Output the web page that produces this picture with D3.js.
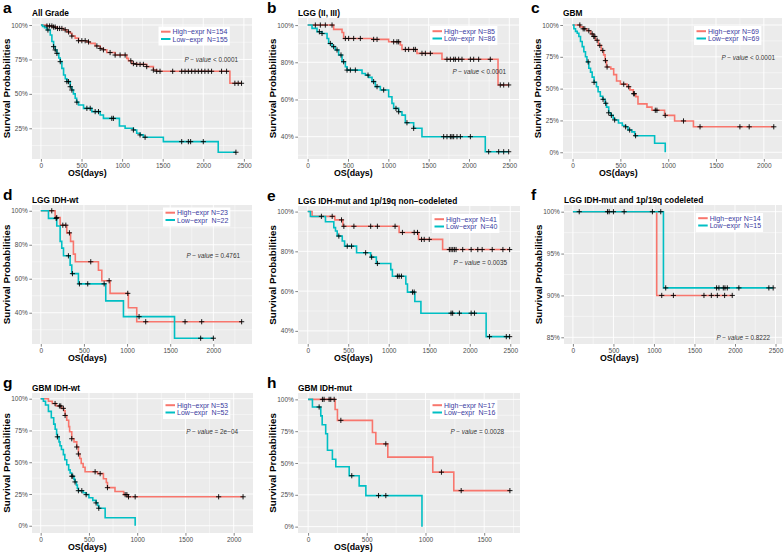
<!DOCTYPE html>
<html><head><meta charset="utf-8">
<script src="https://cdn.jsdelivr.net/npm/d3@7"></script>
<style>
body{margin:0;background:#fff}
text{font-family:"Liberation Sans",Arial,Helvetica,sans-serif}
</style>
</head><body>
<svg id="chart" width="784" height="552"></svg>
<script>
// ---------------- DATA ----------------
const panelLetters = ['a','b','c','d','e','f','g','h'];
const panelTitles = ['All Grade','LGG (II, III)','GBM','LGG IDH-wt','LGG IDH-mut and 1p/19q non\u2212codeleted','LGG IDH-mut and 1p/19q codeleted','GBM IDH-wt','GBM IDH-mut'];
const nHigh = [154,85,69,23,41,14,53,17];
const nLow = [155,86,69,22,40,15,52,16];
const pValues = ['< 0.0001','< 0.0001','< 0.0001','= 0.4761','= 0.0035','= 0.8222','= 2e\u221204','= 0.0028'];
const xTickMax = [2500,2500,2000,2000,2500,2500,2000,1500];
const yTickSets = [[0.25,0.5,0.75,1],[0.4,0.6,0.8,1],[0,0.25,0.5,0.75,1],[0.4,0.6,0.8,1],[0.4,0.6,0.8,1],[0.85,0.9,0.95,1],[0,0.25,0.5,0.75,1],[0,0.25,0.5,0.75,1]];

// events: [time (days), survival after event]; censors: times
const aHighEvents = [[74,0.993],[150,0.985],[200,0.975],[279,0.965],[320,0.95],[361,0.94],[381,0.92],[422,0.905],[463,0.886],[566,0.877],[607,0.867],[668,0.848],[730,0.83],[770,0.82],[811,0.80],[914,0.782],[1057,0.758],[1078,0.74],[1119,0.72],[1180,0.714],[1303,0.698],[1385,0.673],[1426,0.664],[2328,0.577]];
const aHighCensor = [74,107,135,156,176,205,230,258,299,340,381,463,504,545,586,689,730,770,852,914,975,1037,1107,1139,1180,1221,1262,1303,1385,1426,1467,1623,1734,1775,1816,1857,1898,1939,1980,2020,2061,2102,2225,2287,2389,2430,2471];
const aLowEvents = [[20,0.99],[45,0.98],[74,0.964],[115,0.927],[135,0.88],[156,0.843],[176,0.819],[197,0.794],[220,0.76],[238,0.734],[258,0.685],[279,0.637],[300,0.61],[320,0.589],[361,0.552],[381,0.528],[400,0.50],[422,0.468],[440,0.44],[463,0.419],[525,0.395],[627,0.371],[730,0.347],[770,0.322],[967,0.267],[1037,0.25],[1139,0.238],[1180,0.214],[1221,0.202],[1262,0.185],[1508,0.153],[2184,0.076]];
const aLowCensor = [86,156,176,197,238,320,340,361,381,443,566,607,668,709,873,893,1139,1221,1283,1734,1816,1844,2000,2402];

const bHighEvents = [[322,0.977],[426,0.96],[446,0.928],[798,0.923],[1004,0.91],[1149,0.893],[1169,0.869],[1355,0.848],[1665,0.816],[2360,0.678]];
const bHighCensor = [95,157,219,302,467,508,570,653,818,860,1066,1107,1128,1211,1252,1314,1335,1417,1459,1521,1727,1769,1810,1831,1872,1913,2017,2058,2120,2264,2388,2430,2492];
const bLowEvents = [[54,0.982],[116,0.964],[178,0.955],[240,0.928],[260,0.901],[302,0.884],[343,0.866],[384,0.839],[426,0.803],[467,0.776],[488,0.758],[674,0.74],[715,0.731],[756,0.719],[798,0.696],[839,0.669],[901,0.651],[1004,0.615],[1045,0.579],[1066,0.552],[1128,0.534],[1169,0.516],[1211,0.475],[1314,0.445],[1417,0.40],[2202,0.319]];
const bLowCensor = [145,178,281,322,364,413,446,488,529,591,748,818,860,942,1095,1128,1231,1314,1686,1727,1769,1789,1810,1851,1893,2017,2244,2368,2430,2492];

const cHighEvents = [[80,0.985],[110,0.97],[150,0.955],[190,0.93],[215,0.91],[240,0.88],[270,0.84],[300,0.80],[325,0.765],[340,0.72],[355,0.67],[400,0.655],[430,0.61],[460,0.56],[500,0.535],[570,0.515],[600,0.49],[635,0.46],[660,0.437],[684,0.38],[778,0.355],[830,0.33],[962,0.29],[1067,0.246],[1264,0.20]];
const cHighCensor = [76,111,128,170,205,222,233,257,285,316,344,361,535,587,639,646,865,882,969,1160,1333,1750,1847,2104];
const cLowEvents = [[14,0.97],[31,0.95],[49,0.935],[66,0.91],[83,0.87],[101,0.83],[118,0.79],[135,0.75],[150,0.71],[170,0.66],[188,0.63],[205,0.59],[225,0.55],[250,0.515],[267,0.475],[290,0.44],[315,0.416],[340,0.385],[355,0.355],[378,0.31],[400,0.29],[425,0.265],[440,0.254],[480,0.23],[520,0.21],[555,0.20],[580,0.175],[620,0.16],[650,0.13],[858,0.071],[969,0]];
const cLowCensor = [163,225,319,347,378,406,440,555,597,659];

const dHighEvents = [[166,0.96],[224,0.915],[301,0.87],[345,0.82],[378,0.745],[400,0.70],[668,0.65],[707,0.588],[803,0.514],[1015,0.429],[1112,0.347]];
const dHighCensor = [127,185,255,290,332,579,792,1008,1216,1672,1865,2328];
const dLowEvents = [[89,0.955],[185,0.91],[224,0.82],[243,0.78],[263,0.735],[340,0.68],[359,0.63],[436,0.57],[753,0.47],[958,0.377],[1550,0.25]];
const dLowCensor = [178,320,367,448,544,734,1139,1853,2000];

const eHighEvents = [[54,0.976],[335,0.958],[434,0.926],[1128,0.895],[1368,0.86],[1665,0.809]];
const eHighCensor = [169,302,417,446,570,777,860,1078,1169,1314,1355,1405,1438,1500,1748,1769,1790,1810,1831,1913,2017,2099,2153,2277,2409,2492];
const eLowEvents = [[33,0.975],[219,0.949],[322,0.919],[343,0.902],[364,0.877],[426,0.852],[455,0.826],[603,0.793],[777,0.771],[847,0.739],[1025,0.708],[1045,0.675],[1211,0.636],[1231,0.595],[1322,0.548],[1397,0.489],[2202,0.371]];
const eLowCensor = [384,488,541,715,789,860,1107,1128,1157,1293,1314,1769,1789,1872,2017,2058,2244,2451,2492];

const fHighEvents = [[1034,0.90]];
const fHighCensor = [78,447,632,1096,1240,1617,1708,1782,1872,1966];
const fLowEvents = [[1117,0.909]];
const fLowCensor = [427,500,981,1084,1145,1773,1802,1856,1876,1905,2048,2418,2471];

const gHighEvents = [[80,0.98],[120,0.962],[160,0.943],[215,0.924],[240,0.905],[253,0.868],[270,0.83],[290,0.78],[300,0.74],[322,0.685],[345,0.66],[374,0.62],[391,0.565],[405,0.53],[420,0.49],[440,0.46],[460,0.425],[590,0.41],[650,0.37],[680,0.34],[692,0.30],[770,0.27],[860,0.245],[900,0.228]];
const gHighCensor = [149,194,208,235,253,322,374,391,564,616,692,875,893,910,979,1844,2097];
const gLowEvents = [[28,0.98],[50,0.95],[80,0.90],[110,0.85],[135,0.80],[150,0.76],[165,0.72],[173,0.70],[190,0.66],[200,0.63],[215,0.60],[235,0.56],[250,0.52],[270,0.48],[290,0.44],[305,0.415],[322,0.39],[345,0.365],[356,0.345],[370,0.32],[380,0.295],[391,0.276],[440,0.26],[471,0.245],[500,0.22],[540,0.20],[574,0.18],[590,0.16],[602,0.138],[668,0.063],[979,0]];
const gLowCensor = [173,322,332,356,391,426,471,574,602];

const hHighEvents = [[230,0.92],[250,0.835],[548,0.74],[577,0.65],[679,0.546],[1062,0.428],[1241,0.283]];
const hHighCensor = [122,136,179,193,222,279,662,1136,1304,1719];
const hLowEvents = [[37,0.94],[108,0.87],[120,0.80],[150,0.73],[165,0.60],[207,0.53],[236,0.47],[350,0.40],[435,0.32],[492,0.244],[970,0]];
const hLowCensor = [94,372,600,662];

const highEvents = [aHighEvents,bHighEvents,cHighEvents,dHighEvents,eHighEvents,fHighEvents,gHighEvents,hHighEvents];
const highCensor = [aHighCensor,bHighCensor,cHighCensor,dHighCensor,eHighCensor,fHighCensor,gHighCensor,hHighCensor];
const lowEvents = [aLowEvents,bLowEvents,cLowEvents,dLowEvents,eLowEvents,fLowEvents,gLowEvents,hLowEvents];
const lowCensor = [aLowCensor,bLowCensor,cLowCensor,dLowCensor,eLowCensor,fLowCensor,gLowCensor,hLowCensor];

// ---------------- LAYOUT ----------------
const layout = [
 {box:[32,18,252,159],  xd:[-110,2600], yd:[0.027,1.051], leg:[158.5,26.5], pv:[238,62],   letterX:3},
 {box:[298,18,519,159], xd:[-120,2620], yd:[0.280,1.038], leg:[430,26],     pv:[506,74],   letterX:267},
 {box:[563,18,782,159], xd:[-100,2190], yd:[-0.053,1.055],leg:[694,26],     pv:[775,60],   letterX:531},
 {box:[32,205,252,344], xd:[-102,2448], yd:[0.216,1.034], leg:[163,207.5],  pv:[240,257.7],letterX:3},
 {box:[298,206,520,344],xd:[-120,2620], yd:[0.334,1.028], leg:[432,214],    pv:[507,265],  letterX:267},
 {box:[564,205,782,344],xd:[-110,2580], yd:[0.842,1.008], leg:[695.7,213],  pv:[770,340],  letterX:531},
 {box:[32,393,253,533], xd:[-90,2200],  yd:[-0.057,1.045],leg:[163,400],    pv:[238,434],  letterX:3},
 {box:[298,393,520,533],xd:[-86,1805],  yd:[-0.05,1.05],  leg:[430,400],    pv:[504,434],  letterX:267}
];
const RED = '#F8766D', CYAN = '#00BFC4';
const svg = d3.select('#chart');

function survAt(events, t){
  let s = 1;
  for (const [et, es] of events){ if (et <= t) s = es; else break; }
  return s;
}
function curvePoints(events, censors){
  const pts = [[0,1]].concat(events);
  const end = Math.max(events.length ? events[events.length-1][0] : 0, d3.max(censors) || 0);
  pts.push([end, pts[pts.length-1][1]]);
  return pts;
}
function minorBreaks(majors, dom){
  const step = majors[1]-majors[0];
  const out = [];
  for (let v = majors[0]-step/2; v <= majors[majors.length-1]+step/2 + 1e-9; v += step){
    if (v >= dom[0] && v <= dom[1]) out.push(v);
  }
  return out;
}

layout.forEach((L, i) => {
  const [x0,y0,x1,y1] = L.box;
  const x = d3.scaleLinear().domain(L.xd).range([x0,x1]);
  const y = d3.scaleLinear().domain(L.yd).range([y1,y0]);
  const g = svg.append('g');
  const clipId = 'clip'+i;
  svg.append('clipPath').attr('id',clipId).append('rect').attr('x',x0).attr('y',y0).attr('width',x1-x0).attr('height',y1-y0);

  g.append('rect').attr('x',x0).attr('y',y0).attr('width',x1-x0).attr('height',y1-y0).attr('fill','#EBEBEB');

  const xMaj = d3.range(0, xTickMax[i]+1, 500);
  const yMaj = yTickSets[i];
  const xMin = minorBreaks(xMaj, L.xd), yMin = minorBreaks(yMaj, L.yd);
  const grid = g.append('g').attr('stroke','#fff');
  grid.selectAll('.xm').data(xMin).join('line').attr('x1',d=>x(d)).attr('x2',d=>x(d)).attr('y1',y0).attr('y2',y1).attr('stroke-width',0.45);
  grid.selectAll('.ym').data(yMin).join('line').attr('y1',d=>y(d)).attr('y2',d=>y(d)).attr('x1',x0).attr('x2',x1).attr('stroke-width',0.45);
  grid.selectAll('.xM').data(xMaj).join('line').attr('x1',d=>x(d)).attr('x2',d=>x(d)).attr('y1',y0).attr('y2',y1).attr('stroke-width',0.9);
  grid.selectAll('.yM').data(yMaj).join('line').attr('y1',d=>y(d)).attr('y2',d=>y(d)).attr('x1',x0).attr('x2',x1).attr('stroke-width',0.9);

  // axes
  const xa = g.append('g').attr('transform',`translate(0,${y1})`)
    .call(d3.axisBottom(x).tickValues(xMaj).tickSize(2.7).tickPadding(1.5).tickFormat(d3.format('d')));
  const ya = g.append('g').attr('transform',`translate(${x0},0)`)
    .call(d3.axisLeft(y).tickValues(yMaj).tickSize(2.7).tickPadding(1.5).tickFormat(d=>Math.round(d*100)+'%'));
  [xa,ya].forEach(a=>{
    a.select('.domain').remove();
    a.selectAll('.tick line').attr('stroke','#333').attr('stroke-width',0.6);
    a.selectAll('.tick text').attr('fill','#4D4D4D').style('font-size','6.5px');
  });

  // curves
  const line = d3.line().x(d=>x(d[0])).y(d=>y(d[1])).curve(d3.curveStepAfter);
  const plot = g.append('g').attr('clip-path',`url(#${clipId})`);
  const series = [[highEvents[i],highCensor[i],RED],[lowEvents[i],lowCensor[i],CYAN]];
  series.forEach(([ev,ce,col])=>{
    plot.append('path').attr('d',line(curvePoints(ev,ce))).attr('fill','none')
      .attr('stroke',col).attr('stroke-width',1.6);
  });
  series.forEach(([ev,ce])=>{
    plot.selectAll(null).data(ce).join('path')
      .attr('transform',d=>`translate(${x(d)},${y(survAt(ev,d))})`)
      .attr('d','M-2.6,0H2.6M0,-2.6V2.6').attr('stroke','#000').attr('stroke-width',0.9);
  });

  // legend
  const [lx,ly] = L.leg;
  const lg = g.append('g');
  const lrect = lg.append('rect').attr('x',lx).attr('y',ly).attr('height',19).attr('fill','#fff');
  const labels = ['High\u2212expr N='+nHigh[i], 'Low\u2212expr  N='+nLow[i]];
  let maxW = 0;
  labels.forEach((t,k)=>{
    lg.append('line').attr('x1',lx+2.5).attr('x2',lx+12).attr('y1',ly+5.2+k*7.3).attr('y2',ly+5.2+k*7.3)
      .attr('stroke',k?CYAN:RED).attr('stroke-width',2);
    const tx = lg.append('text').attr('x',lx+14).attr('y',ly+7.7+k*7.3).text(t)
      .attr('fill','#3A3AA0').style('font-size','7px').style('white-space','pre');
    maxW = Math.max(maxW, tx.node().getComputedTextLength());
  });
  lrect.attr('width', maxW+16);

  // p value
  const pt = g.append('text').attr('x',L.pv[0]).attr('y',L.pv[1]).attr('text-anchor','end')
    .attr('fill','#333').style('font-size','6.4px');
  pt.append('tspan').style('font-style','italic').text('P \u2212 value');
  pt.append('tspan').text(' '+pValues[i]);

  // titles
  g.append('text').attr('x',L.letterX).attr('y',y0-5.5).text(panelLetters[i])
    .style('font-size','15.5px').style('font-weight','bold');
  g.append('text').attr('x',x0).attr('y',y0-2.5).text(panelTitles[i])
    .style('font-size','8.3px').style('font-weight','bold');
  g.append('text').attr('transform',`translate(${x0-22},${(y0+y1)/2}) rotate(-90)`).attr('text-anchor','middle')
    .text('Survival Probabilities').style('font-size','9.8px').style('font-weight','bold');
  g.append('text').attr('x',x0+36).attr('y',y1+17).text('OS(days)')
    .style('font-size','8.8px').style('font-weight','bold');
});
</script>
</body></html>
